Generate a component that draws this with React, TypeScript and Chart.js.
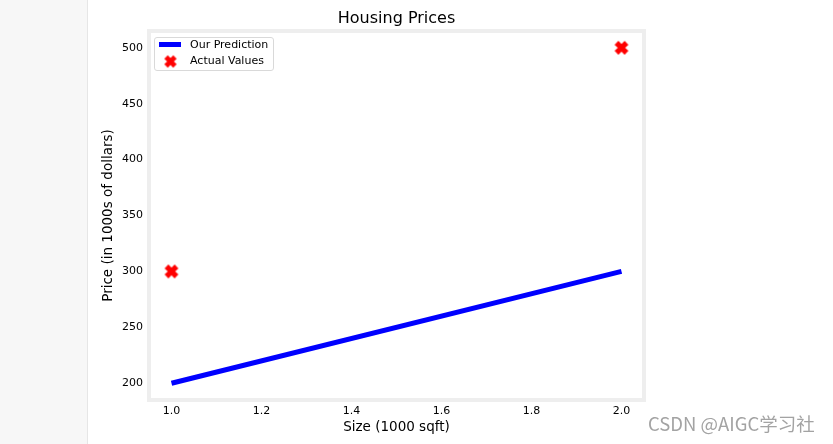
import React, { useEffect, useRef } from "react";
import { Chart, registerables } from "chart.js";

Chart.register(...registerables);

// ---- data ----
const chartTitle = "Housing Prices";
const xTitle = "Size (1000 sqft)";
const yTitle = "Price (in 1000s of dollars)";
const lineLabel = "Our Prediction";
const pointLabel = "Actual Values";
const watermark = "CSDN @AIGC学习社";
const sizes = [1.0, 2.0];
const predicted = [200, 300];
const actualSizes = [1.0, 2.0];
const actual = [300, 500];
const xTicks = [1.0, 1.2, 1.4, 1.6, 1.8, 2.0];
const yTicks = [200, 250, 300, 350, 400, 450, 500];

const FONT = "'DejaVu Sans', sans-serif";

function makeXMarker(a: number, color: string): HTMLCanvasElement {
  const s = Math.ceil(2 * a + 4);
  const c = document.createElement("canvas");
  c.width = s;
  c.height = s;
  const ctx = c.getContext("2d")!;
  ctx.translate(s / 2, s / 2);
  ctx.rotate(Math.PI / 4);
  const b = a / 3;
  const pts = [
    [-b, -a], [-b, -b], [-a, -b], [-a, b], [-b, b], [-b, a],
    [b, a], [b, b], [a, b], [a, -b], [b, -b], [b, -a],
  ];
  ctx.beginPath();
  pts.forEach(([x, y], i) => (i === 0 ? ctx.moveTo(x, y) : ctx.lineTo(x, y)));
  ctx.closePath();
  ctx.fillStyle = color;
  ctx.fill();
  ctx.lineWidth = 1;
  ctx.strokeStyle = color;
  ctx.lineJoin = "miter";
  ctx.stroke();
  return c;
}

export default function App() {
  const ref = useRef<HTMLCanvasElement | null>(null);

  useEffect(() => {
    if (!ref.current) return;
    const marker = makeXMarker(6.6, "#ff0000");
    const legendMarker = makeXMarker(5.8, "#ff0000");

    const framePlugin = {
      id: "frame",
      beforeDatasetsDraw(chart: any) {
        const { ctx, chartArea: a } = chart;
        ctx.save();
        ctx.strokeStyle = "#eeeeee";
        ctx.lineWidth = 4;
        ctx.strokeRect(a.left, a.top, a.right - a.left, a.bottom - a.top);
        ctx.restore();
      },
    };

    const titlePlugin = {
      id: "mplTitle",
      afterDraw(chart: any) {
        const { ctx, chartArea: a } = chart;
        ctx.save();
        ctx.fillStyle = "#000";
        ctx.font = `16px ${FONT}`;
        ctx.textAlign = "center";
        ctx.textBaseline = "alphabetic";
        ctx.fillText(chartTitle, (a.left + a.right) / 2, 23);
        ctx.restore();
      },
    };

    const legendPlugin = {
      id: "mplLegend",
      afterDraw(chart: any) {
        const { ctx, chartArea: a } = chart;
        const x0 = a.left + 5.5;
        const y0 = a.top + 6.5;
        ctx.save();
        ctx.beginPath();
        (ctx as any).roundRect(x0, y0, 119, 33, 2.5);
        ctx.fillStyle = "rgba(255,255,255,0.8)";
        ctx.fill();
        ctx.strokeStyle = "#d9d9d9";
        ctx.lineWidth = 1;
        ctx.stroke();

        ctx.beginPath();
        ctx.moveTo(a.left + 10, a.top + 13.5);
        ctx.lineTo(a.left + 32, a.top + 13.5);
        ctx.strokeStyle = "#0000ff";
        ctx.lineWidth = 5;
        ctx.lineCap = "butt";
        ctx.stroke();

        ctx.drawImage(
          legendMarker,
          a.left + 21.5 - legendMarker.width / 2,
          a.top + 30.5 - legendMarker.height / 2
        );

        ctx.fillStyle = "#000";
        ctx.font = `11px ${FONT}`;
        ctx.textAlign = "left";
        ctx.textBaseline = "middle";
        ctx.fillText(chart.data.datasets[0].label, a.left + 41, a.top + 14);
        ctx.fillText(chart.data.datasets[1].label, a.left + 41, a.top + 30);
        ctx.restore();
      },
    };

    const chart = new Chart(ref.current, {
      type: "scatter",
      data: {
        datasets: [
          {
            type: "line",
            label: lineLabel,
            data: sizes.map((x, i) => ({ x, y: predicted[i] })),
            borderColor: "#0000ff",
            backgroundColor: "#0000ff",
            borderWidth: 5,
            borderCapStyle: "butt",
            pointRadius: 0,
            fill: false,
            order: 2,
          } as any,
          {
            type: "scatter",
            label: pointLabel,
            data: actualSizes.map((x, i) => ({ x, y: actual[i] })),
            pointStyle: marker as any,
            pointRadius: 7,
            backgroundColor: "#ff0000",
            borderColor: "#ff0000",
            order: 1,
          } as any,
        ],
      },
      options: {
        animation: false,
        responsive: false,
        devicePixelRatio: 1,
        events: [],
        layout: { padding: { left: 88, right: 189, top: 31, bottom: 0 } },
        plugins: {
          legend: { display: false },
          title: { display: false },
          tooltip: { enabled: false },
        },
        scales: {
          x: {
            type: "linear",
            min: 0.95,
            max: 2.05,
            grid: { display: false, drawTicks: false },
            border: { display: false },
            afterBuildTicks: (s: any) => {
              s.ticks = xTicks.map((v) => ({ value: v }));
            },
            afterFit: (s: any) => {
              s.height = 44;
            },
            ticks: {
              color: "#000",
              font: { family: FONT, size: 11 },
              padding: 4.4,
              maxRotation: 0,
              callback: (v: any) => Number(v).toFixed(1),
            },
            title: {
              display: true,
              text: xTitle,
              color: "#000",
              font: { family: FONT, size: 13.5 },
              padding: { top: 0, bottom: 8.9 },
            },
          },
          y: {
            type: "linear",
            min: 185,
            max: 515,
            grid: { display: false, drawTicks: false },
            border: { display: false },
            afterBuildTicks: (s: any) => {
              s.ticks = yTicks.map((v) => ({ value: v }));
            },
            afterFit: (s: any) => {
              s.width = 61;
            },
            ticks: {
              color: "#000",
              font: { family: FONT, size: 11 },
              padding: 6,
              callback: (v: any) => String(v),
            },
            title: {
              display: true,
              text: yTitle,
              color: "#000",
              font: { family: FONT, size: 13.5 },
              padding: { top: 11.9, bottom: 0 },
            },
          },
        },
      },
      plugins: [framePlugin, titlePlugin, legendPlugin],
    });

    return () => chart.destroy();
  }, []);

  return (
    <div
      style={{
        position: "fixed",
        left: 0,
        top: 0,
        width: 833,
        height: 444,
        background: "#ffffff",
        overflow: "hidden",
      }}
    >
      <div
        style={{
          position: "absolute",
          left: 0,
          top: 0,
          width: 87,
          height: 444,
          background: "#f7f7f7",
          borderRight: "1px solid #e6e6e6",
        }}
      />
      <canvas
        ref={ref}
        width={833}
        height={444}
        style={{ position: "absolute", left: 0, top: 0, width: 833, height: 444 }}
      />
      <div
        style={{
          position: "absolute",
          left: 648,
          top: 412,
          fontFamily: "'Noto Sans CJK SC', sans-serif",
          fontSize: 18.5,
          lineHeight: "22px",
          color: "#a3a3a3",
          whiteSpace: "nowrap",
        }}
      >
        {watermark}
      </div>
    </div>
  );
}
